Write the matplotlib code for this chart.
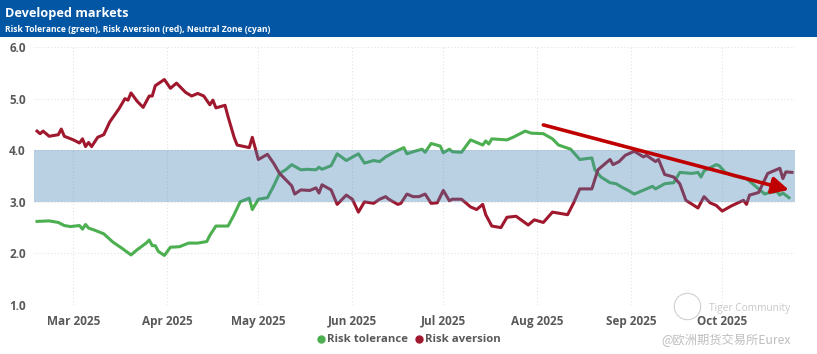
import matplotlib
matplotlib.use("Agg")
import matplotlib.pyplot as plt
import matplotlib.dates as mdates
from matplotlib.patches import Rectangle
from matplotlib.lines import Line2D
import pandas as pd

# Risk tolerance (green)
tol_dates = [
    "2025-02-17", "2025-02-21", "2025-02-24", "2025-02-26", "2025-02-28", "2025-03-03",
    "2025-03-04", "2025-03-05", "2025-03-06", "2025-03-08", "2025-03-11", "2025-03-14",
    "2025-03-17", "2025-03-20", "2025-03-22", "2025-03-25", "2025-03-26", "2025-03-27",
    "2025-03-28", "2025-03-29", "2025-03-31", "2025-04-02", "2025-04-05", "2025-04-08",
    "2025-04-11", "2025-04-14", "2025-04-15", "2025-04-17", "2025-04-21", "2025-04-23",
    "2025-04-25", "2025-04-28", "2025-04-29", "2025-05-01", "2025-05-04", "2025-05-06",
    "2025-05-08", "2025-05-10", "2025-05-12", "2025-05-15", "2025-05-17", "2025-05-20",
    "2025-05-21", "2025-05-22", "2025-05-25", "2025-05-27", "2025-05-30", "2025-06-03",
    "2025-06-05", "2025-06-08", "2025-06-10", "2025-06-12", "2025-06-15", "2025-06-18",
    "2025-06-19", "2025-06-21", "2025-06-24", "2025-06-25", "2025-06-27", "2025-06-30",
    "2025-07-01", "2025-07-03", "2025-07-04", "2025-07-07", "2025-07-10", "2025-07-14",
    "2025-07-15", "2025-07-16", "2025-07-17", "2025-07-22", "2025-07-24", "2025-07-28",
    "2025-07-30", "2025-08-03", "2025-08-06", "2025-08-08", "2025-08-12", "2025-08-15",
    "2025-08-19", "2025-08-20", "2025-08-22", "2025-08-25", "2025-08-27", "2025-08-29",
    "2025-08-31", "2025-09-02", "2025-09-06", "2025-09-08", "2025-09-09", "2025-09-12",
    "2025-09-15", "2025-09-17", "2025-09-21", "2025-09-23", "2025-09-24", "2025-09-25",
    "2025-09-29", "2025-09-30", "2025-10-02", "2025-10-05", "2025-10-09", "2025-10-13",
    "2025-10-15", "2025-10-16", "2025-10-19", "2025-10-20", "2025-10-21", "2025-10-23",
]
tol_vals = [
    2.62, 2.63, 2.60, 2.54, 2.52, 2.54,
    2.47, 2.56, 2.49, 2.45, 2.38, 2.22,
    2.10, 1.97, 2.07, 2.20, 2.26, 2.15,
    2.15, 2.04, 1.96, 2.12, 2.13, 2.20,
    2.20, 2.23, 2.35, 2.53, 2.53, 2.75,
    3.00, 3.07, 2.85, 3.05, 3.08, 3.30,
    3.55, 3.62, 3.72, 3.62, 3.63, 3.62,
    3.67, 3.63, 3.70, 3.93, 3.80, 3.93,
    3.75, 3.80, 3.78, 3.87, 3.97, 4.05,
    3.93, 3.97, 4.02, 3.96, 4.13, 4.08,
    3.95, 4.02, 3.97, 3.96, 4.20, 4.10,
    4.18, 4.12, 4.22, 4.20, 4.25, 4.37,
    4.33, 4.32, 4.22, 4.10, 4.02, 3.82,
    3.85, 3.62, 3.48, 3.37, 3.35, 3.28,
    3.22, 3.15, 3.25, 3.30, 3.25, 3.35,
    3.37, 3.57, 3.55, 3.57, 3.48, 3.60,
    3.72, 3.70, 3.57, 3.50, 3.45, 3.25,
    3.15, 3.17, 3.20, 3.13, 3.17, 3.08,
]

# Risk aversion (red)
av_dates = [
    "2025-02-17", "2025-02-18", "2025-02-19", "2025-02-21", "2025-02-24", "2025-02-25",
    "2025-02-26", "2025-03-01", "2025-03-03", "2025-03-04", "2025-03-05", "2025-03-06",
    "2025-03-07", "2025-03-09", "2025-03-11", "2025-03-13", "2025-03-16", "2025-03-18",
    "2025-03-19", "2025-03-20", "2025-03-22", "2025-03-24", "2025-03-26", "2025-03-27",
    "2025-03-28", "2025-03-31", "2025-04-02", "2025-04-04", "2025-04-06", "2025-04-07",
    "2025-04-09", "2025-04-11", "2025-04-13", "2025-04-15", "2025-04-16", "2025-04-17",
    "2025-04-20", "2025-04-21", "2025-04-23", "2025-04-24", "2025-04-28", "2025-04-29",
    "2025-05-01", "2025-05-04", "2025-05-06", "2025-05-08", "2025-05-12", "2025-05-13",
    "2025-05-15", "2025-05-18", "2025-05-20", "2025-05-21", "2025-05-22", "2025-05-25",
    "2025-05-27", "2025-05-30", "2025-06-01", "2025-06-03", "2025-06-05", "2025-06-08",
    "2025-06-10", "2025-06-12", "2025-06-13", "2025-06-16", "2025-06-17", "2025-06-19",
    "2025-06-21", "2025-06-23", "2025-06-25", "2025-06-27", "2025-06-29", "2025-07-01",
    "2025-07-03", "2025-07-04", "2025-07-07", "2025-07-10", "2025-07-12", "2025-07-14",
    "2025-07-15", "2025-07-17", "2025-07-20", "2025-07-22", "2025-07-25", "2025-07-29",
    "2025-07-31", "2025-08-03", "2025-08-06", "2025-08-11", "2025-08-13", "2025-08-15",
    "2025-08-19", "2025-08-21", "2025-08-25", "2025-08-26", "2025-08-28", "2025-08-30",
    "2025-09-02", "2025-09-05", "2025-09-06", "2025-09-09", "2025-09-10", "2025-09-12",
    "2025-09-15", "2025-09-17", "2025-09-19", "2025-09-23", "2025-09-25", "2025-09-27",
    "2025-09-29", "2025-10-01", "2025-10-04", "2025-10-08", "2025-10-09", "2025-10-10",
    "2025-10-13", "2025-10-16", "2025-10-20", "2025-10-21", "2025-10-22", "2025-10-24",
]
av_vals = [
    4.37, 4.32, 4.37, 4.27, 4.30, 4.41,
    4.27, 4.20, 4.14, 4.22, 4.07, 4.15,
    4.07, 4.25, 4.30, 4.55, 4.80, 5.00,
    4.97, 5.11, 4.95, 4.83, 5.05, 5.05,
    5.25, 5.37, 5.20, 5.30, 5.18, 5.12,
    5.05, 5.10, 5.05, 4.88, 4.97, 4.82,
    4.87, 4.65, 4.25, 4.10, 4.05, 4.25,
    3.82, 3.92, 3.75, 3.55, 3.31, 3.15,
    3.23, 3.22, 3.27, 3.17, 3.33, 3.23,
    2.95, 3.13, 3.05, 2.80, 3.00, 2.97,
    3.05, 3.10, 3.05, 2.95, 2.97, 3.15,
    3.10, 3.10, 3.15, 2.97, 2.98, 3.22,
    3.02, 3.05, 3.05, 2.90, 2.85, 2.95,
    2.75, 2.53, 2.50, 2.70, 2.72, 2.55,
    2.65, 2.60, 2.80, 2.75, 2.98, 3.25,
    3.25, 3.62, 3.82, 3.72, 3.78, 3.90,
    3.98, 3.87, 3.90, 3.78, 3.82, 3.53,
    3.48, 3.35, 3.03, 2.88, 3.10, 2.98,
    2.93, 2.82, 2.92, 3.03, 2.95, 3.13,
    3.18, 3.55, 3.65, 3.45, 3.58, 3.57,
]

neutral_low, neutral_high = 3.0, 4.0
x_start, x_end = "2025-02-16", "2025-10-25"
arrow_from = ("2025-08-03", 4.49)
arrow_to = ("2025-10-23", 3.23)

green = "#4CAF50"
red = "#A0182D"
header_blue = "#0356A3"
text_gray = "#595959"

plt.rcParams["font.family"] = ["Open Sans", "DejaVu Sans"]

fig = plt.figure(figsize=(8.17, 3.54), dpi=100)
ax = fig.add_axes([34 / 817, 1 - 305 / 354, (795 - 34) / 817, (305 - 47) / 354])

# header band
fig.patches.append(Rectangle((0, 1 - 37 / 354), 1, 37 / 354, transform=fig.transFigure,
                             facecolor=header_blue, edgecolor="none", zorder=0))
fig.text(5 / 817, 1 - 13 / 354, "Developed markets", color="white", fontsize=9.2,
         fontweight="bold", va="center", ha="left")
fig.text(5 / 817, 1 - 29 / 354, "Risk Tolerance (green), Risk Aversion (red), Neutral Zone (cyan)",
         color="white", fontsize=6.1, fontweight="bold", va="center", ha="left")

td = pd.to_datetime(tol_dates)
ad = pd.to_datetime(av_dates)
ax.plot(td, tol_vals, color=green, lw=2.2, zorder=2, solid_joinstyle="round")
ax.plot(ad, av_vals, color=red, lw=2.2, zorder=2, solid_joinstyle="round")

ax.axhspan(neutral_low, neutral_high, xmin=0, xmax=1, color="#4682B4", alpha=0.37,
           lw=0, zorder=3)

ax.annotate("", xy=(pd.Timestamp(arrow_to[0]), arrow_to[1]),
            xytext=(pd.Timestamp(arrow_from[0]), arrow_from[1]),
            arrowprops=dict(arrowstyle="-|>,head_length=1.0,head_width=0.5",
                            color="#C00000", lw=2.6, shrinkA=0, shrinkB=0),
            zorder=4)

ax.set_xlim(pd.Timestamp(x_start), pd.Timestamp(x_end))
ax.set_ylim(1.0, 6.0)
ax.set_yticks([1, 2, 3, 4, 5, 6])
ax.yaxis.set_major_formatter(plt.FormatStrFormatter("%.1f"))
ax.xaxis.set_major_locator(mdates.MonthLocator(bymonth=range(3, 11)))
ax.xaxis.set_major_formatter(mdates.DateFormatter("%b %Y"))

for s in ax.spines.values():
    s.set_visible(False)
ax.tick_params(axis="both", length=0, labelsize=8.5, labelcolor=text_gray)
ax.tick_params(axis="y", pad=6)
ax.tick_params(axis="x", pad=7)
for lab in ax.get_xticklabels() + ax.get_yticklabels():
    lab.set_fontweight("bold")
ax.grid(True, color="#E3E3E3", lw=0.8, ls=(0, (1, 2)))
ax.set_axisbelow(True)

handles = [Line2D([], [], marker="o", ls="none", color=green, markersize=5),
           Line2D([], [], marker="o", ls="none", color=red, markersize=5)]
leg = fig.legend(handles, ["Risk tolerance", "Risk aversion"], loc="center",
                 bbox_to_anchor=(408 / 817, 1 - 340 / 354), ncol=2, frameon=False,
                 handletextpad=0.05, columnspacing=0.4, handlelength=1.0,
                 prop={"size": 8.2, "weight": "bold"})
for t in leg.get_texts():
    t.set_color(text_gray)

# watermark
fig.add_artist(Line2D([687 / 817], [1 - 306 / 354], transform=fig.transFigure,
                      marker="o", ms=19, mfc="none", mec="#D0D0D0", mew=0.8, ls="none"))
fig.text(750 / 817, 1 - 309 / 354, "Tiger Community", color="#C8C8C8", fontsize=7.3,
         ha="center", va="center")
fig.text(726 / 817, 1 - 340 / 354, "@欧洲期货交易所Eurex", color="#BEBEBE", fontsize=8.8,
         ha="center", va="center", family=["Noto Sans CJK SC", "DejaVu Sans"])

fig.savefig("out.png", dpi=100)
